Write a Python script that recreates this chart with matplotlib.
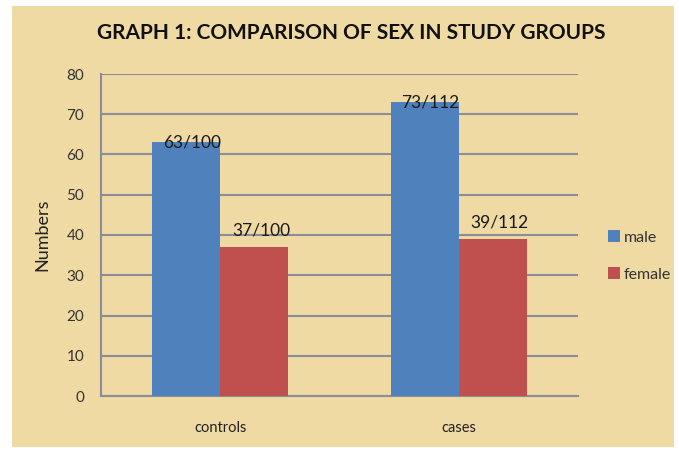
import numpy as np
import matplotlib.pyplot as plt
from matplotlib.patches import Rectangle

# Data
groups = ['controls', 'cases']
male = [63, 73]
female = [37, 39]
male_labels = ['63/100', '73/112']
female_labels = ['37/100', '39/112']
yticks = [0, 10, 20, 30, 40, 50, 60, 70, 80]

plt.rcParams['font.family'] = ['Lato', 'DejaVu Sans']

fig = plt.figure(figsize=(6.79, 4.5), dpi=100, facecolor='white')

# papyrus-coloured background panel
fig.patches.append(Rectangle((12 / 679, 3 / 450), 662 / 679, 441 / 450,
                             transform=fig.transFigure, facecolor='#F0DAA4',
                             edgecolor='none', zorder=-10))

ax = fig.add_axes([101 / 679, 1 - 396 / 450, 477 / 679, 322 / 450])
ax.set_facecolor('none')

grid_col = '#8B8E98'
x = np.arange(len(groups))
w = 0.285
b1 = ax.bar(x - w / 2, male, w, color='#4F81BD', label='male', zorder=3)
b2 = ax.bar(x + w / 2, female, w, color='#C0504D', label='female', zorder=3)

for xi, v, t in zip(x, male, male_labels):
    ax.annotate(t, (xi - w / 2, v), xytext=(4, 0), textcoords='offset points',
                ha='center', va='center', fontsize=12.5, color='#1a1a1a', zorder=4)
for xi, v, t in zip(x, female, female_labels):
    ax.annotate(t, (xi + w / 2, v), xytext=(5, 6), textcoords='offset points',
                ha='center', va='bottom', fontsize=12.5, color='#1a1a1a', zorder=4)

ax.set_xlim(-0.5, 1.5)
ax.set_ylim(0, 80)
ax.set_yticks(yticks)
ax.set_xticks(x)
ax.set_xticklabels(groups)
ax.grid(axis='y', color=grid_col, linewidth=1.5, zorder=1)
ax.tick_params(axis='y', length=0, pad=12, labelsize=11, labelcolor='#333333')
ax.tick_params(axis='x', length=0, pad=18, labelsize=10.5, labelcolor='#222222')
for s in ['top', 'right']:
    ax.spines[s].set_visible(False)
for s in ['left', 'bottom']:
    ax.spines[s].set_color(grid_col)
    ax.spines[s].set_linewidth(1.5)

ax.set_ylabel('Numbers', fontsize=13, color='#222222', labelpad=12)

fig.text(351 / 679, 1 - 33 / 450, 'GRAPH 1: COMPARISON OF SEX IN STUDY GROUPS',
         ha='center', va='center', fontsize=15, fontweight='bold', color='#111111')

leg = fig.legend(handles=[b1, b2], loc='center left',
                 bbox_to_anchor=(594 / 679, 1 - 256 / 450), frameon=False,
                 handlelength=0.75, handleheight=0.75, handletextpad=0.2,
                 labelspacing=1.4, fontsize=11.5)
for t in leg.get_texts():
    t.set_color('#333333')

fig.savefig('out.png', dpi=100, facecolor='white')
